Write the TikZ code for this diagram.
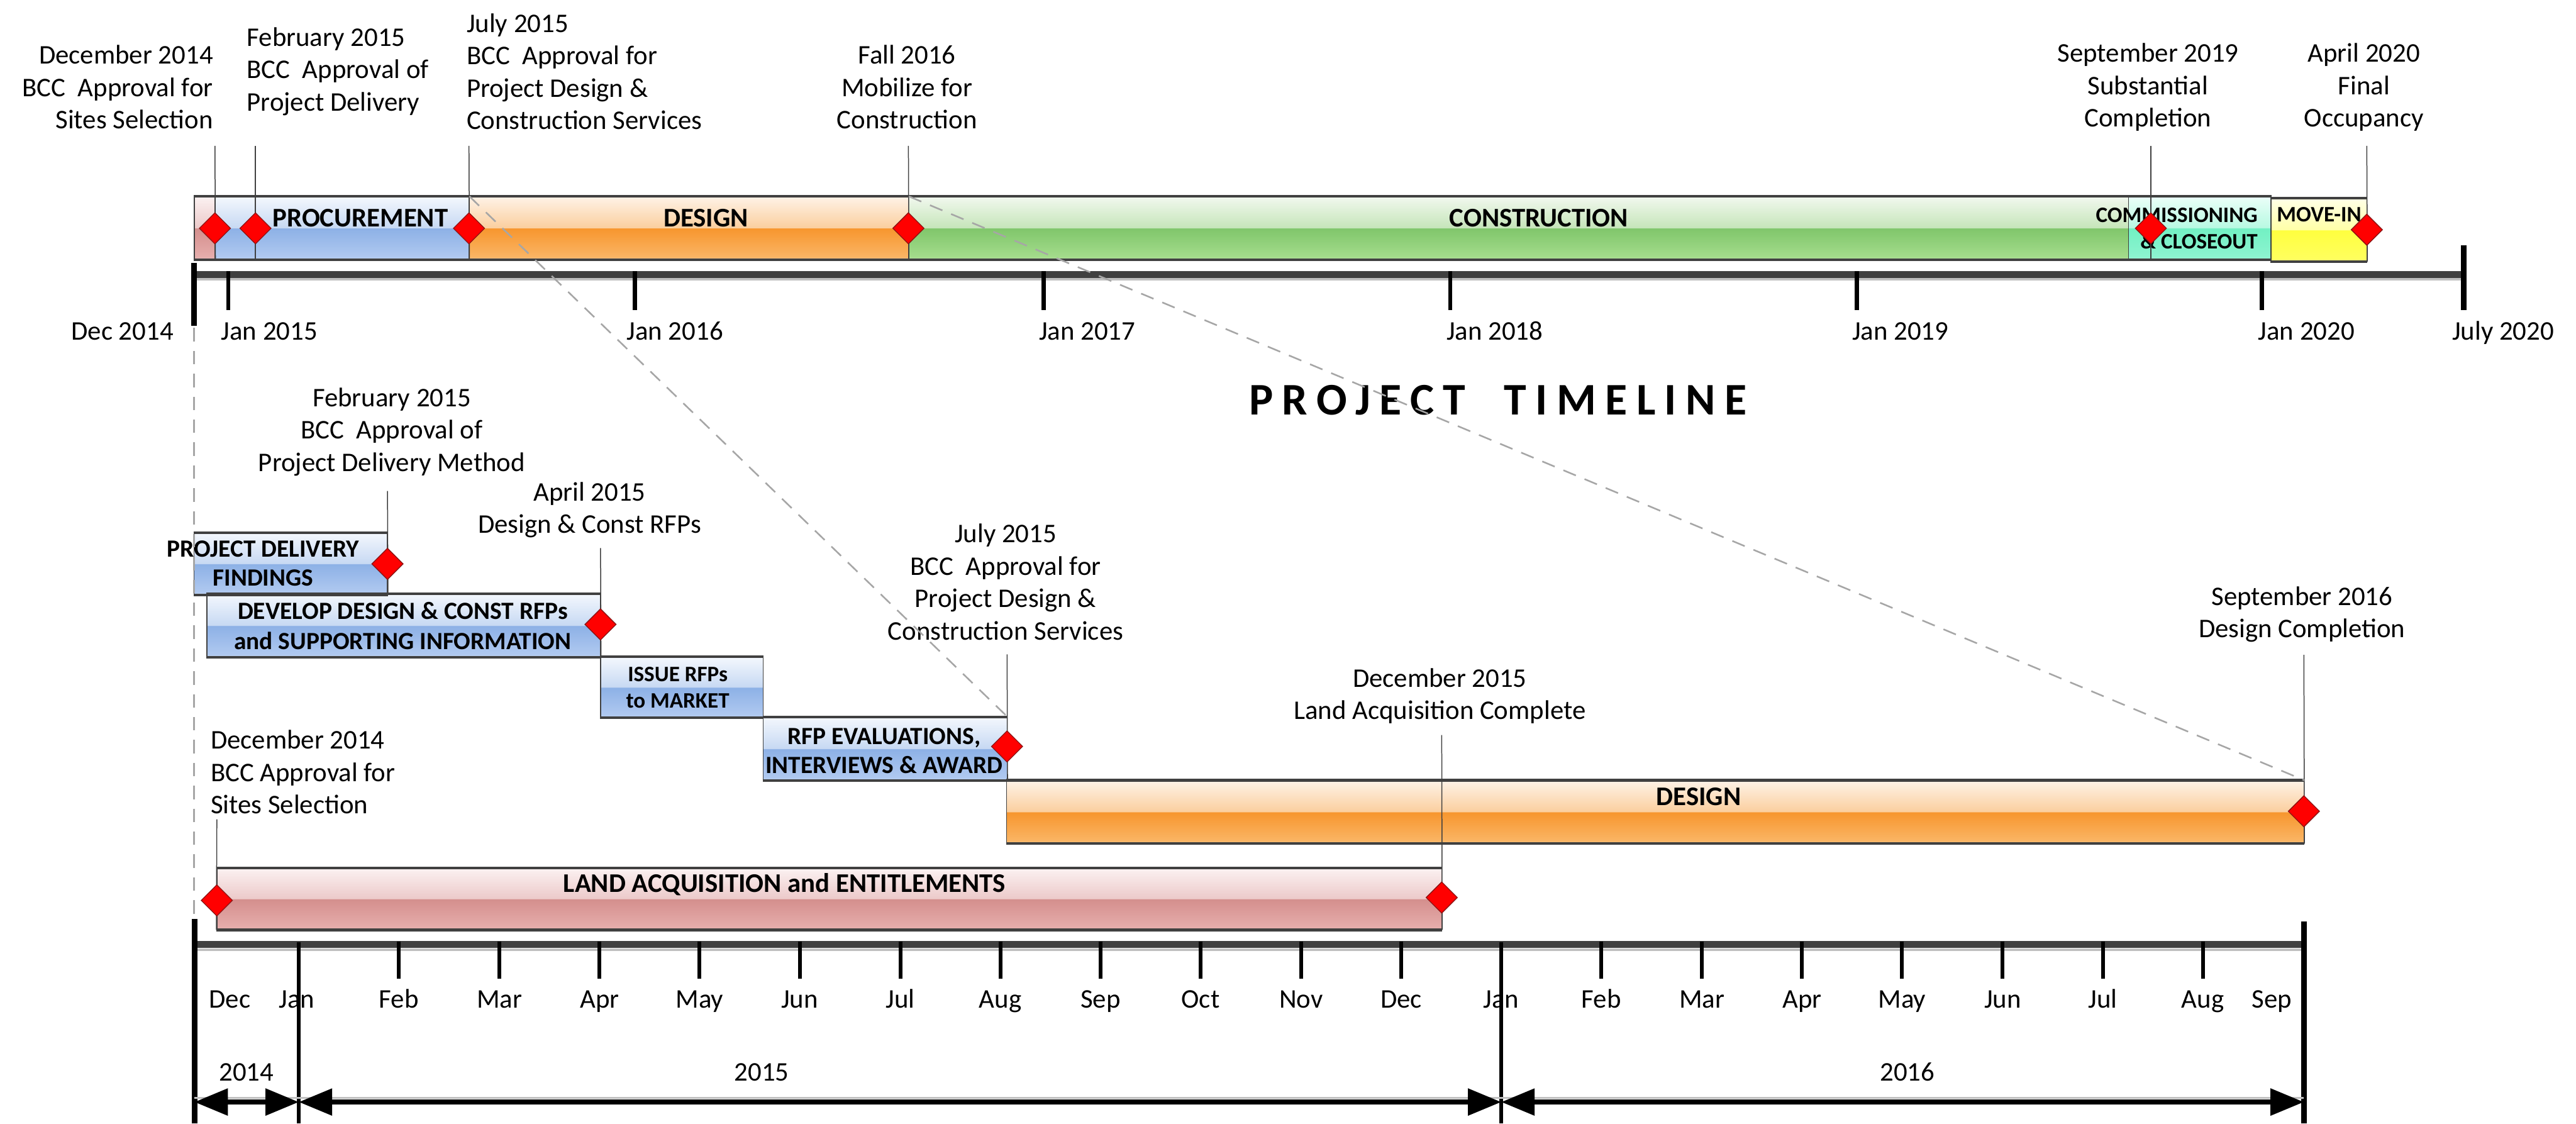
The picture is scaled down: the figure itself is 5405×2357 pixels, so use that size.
\documentclass[tikz,border=0pt]{standalone}
\usepackage{fontspec}
\setmainfont{Carlito}
\newfontfamily\titlefont[LetterSpace=20]{Carlito}
\usepackage{tikz}
\usetikzlibrary{shapes.geometric}
\usetikzlibrary{arrows.meta}

\definecolor{edgegray}{RGB}{64,64,64}
\definecolor{dashgray}{RGB}{166,166,166}
\definecolor{shadowgray}{RGB}{192,192,192}
\definecolor{msdark}{RGB}{140,20,20}
% glass colours, A top ... E bottom strip
\definecolor{blueA}{HTML}{F3F7FD}\definecolor{blueB}{HTML}{C7D9F3}\definecolor{blueC}{HTML}{8DB1E6}\definecolor{blueD}{HTML}{B0C9F0}\definecolor{blueE}{HTML}{DCE8F8}
\definecolor{orngA}{HTML}{FEF2E6}\definecolor{orngB}{HTML}{FBCF9F}\definecolor{orngC}{HTML}{F7962E}\definecolor{orngD}{HTML}{FAB565}\definecolor{orngE}{HTML}{FDE3C8}
\definecolor{grenA}{HTML}{F1F8EE}\definecolor{grenB}{HTML}{C6E5BA}\definecolor{grenC}{HTML}{80C66B}\definecolor{grenD}{HTML}{A4DC8C}\definecolor{grenE}{HTML}{D5F0C9}
\definecolor{pinkA}{HTML}{FBF1F1}\definecolor{pinkB}{HTML}{ECCACA}\definecolor{pinkC}{HTML}{D48F8D}\definecolor{pinkD}{HTML}{E6ADAC}\definecolor{pinkE}{HTML}{F5DCDC}
\definecolor{tealA}{HTML}{EAFFF8}\definecolor{tealB}{HTML}{B8F9E2}\definecolor{tealC}{HTML}{72F0C3}\definecolor{tealD}{HTML}{8DF4D0}\definecolor{tealE}{HTML}{C7FBE8}
\definecolor{yellA}{HTML}{FFFFE6}\definecolor{yellB}{HTML}{FFFFA8}\definecolor{yellC}{HTML}{FFFF3F}\definecolor{yellD}{HTML}{FFFF5E}\definecolor{yellE}{HTML}{FFFFB0}

\pgfdeclareverticalshading{glassblue}{100bp}{color(0bp)=(blueE); color(25bp)=(blueE); color(26.5bp)=(blueD); color(49.7bp)=(blueC); color(50.3bp)=(blueB); color(75bp)=(blueA); color(100bp)=(blueA)}
\pgfdeclareverticalshading{glassorange}{100bp}{color(0bp)=(orngE); color(25bp)=(orngE); color(26.5bp)=(orngD); color(49.7bp)=(orngC); color(50.3bp)=(orngB); color(75bp)=(orngA); color(100bp)=(orngA)}
\pgfdeclareverticalshading{glassgreen}{100bp}{color(0bp)=(grenE); color(25bp)=(grenE); color(26.5bp)=(grenD); color(49.7bp)=(grenC); color(50.3bp)=(grenB); color(75bp)=(grenA); color(100bp)=(grenA)}
\pgfdeclareverticalshading{glasspink}{100bp}{color(0bp)=(pinkE); color(25bp)=(pinkE); color(26.5bp)=(pinkD); color(49.7bp)=(pinkC); color(50.3bp)=(pinkB); color(75bp)=(pinkA); color(100bp)=(pinkA)}
\pgfdeclareverticalshading{glassteal}{100bp}{color(0bp)=(tealE); color(25bp)=(tealE); color(26.5bp)=(tealD); color(49.7bp)=(tealC); color(50.3bp)=(tealB); color(75bp)=(tealA); color(100bp)=(tealA)}
\pgfdeclareverticalshading{glassyellow}{100bp}{color(0bp)=(yellE); color(25bp)=(yellE); color(26.5bp)=(yellD); color(49.7bp)=(yellC); color(50.3bp)=(yellB); color(75bp)=(yellA); color(100bp)=(yellA)}

\newlength\pxu
\setlength\pxu{0.177pt}

\begin{document}
\begin{tikzpicture}[x=0.177pt,y=0.177pt,yscale=-1,xscale=1,
  bar/.style={rectangle, shade, draw=edgegray, line width=0.35pt, inner sep=0pt},
  baredge/.style={draw=edgegray, line width=1pt},
  bartxt/.style={inner sep=0pt, align=center, font=\fontsize{10}{10.6}\selectfont\bfseries},
  subtxt/.style={inner sep=0pt, align=center, font=\fontsize{9.2}{10.8}\selectfont\bfseries},
  smalltxt/.style={inner sep=0pt, align=center, font=\fontsize{8.2}{9.8}\selectfont\bfseries},
  lbl/.style={inner sep=0pt, align=center, font=\fontsize{10}{12}\selectfont},
  msline/.style={draw=edgegray, line width=0.35pt},
  zoomline/.style={draw=dashgray, line width=0.6pt, dash pattern=on 5pt off 3.5pt},
  milestone/.style={diamond, fill=red, draw=msdark, line width=0.3pt, inner sep=0pt, minimum width=66*\pxu, minimum height=66*\pxu},
  band/.style={draw=edgegray, line width=2.5pt},
  bandshadow/.style={draw=shadowgray, line width=0.9pt},
  bigtick/.style={draw=black, line width=2.1pt},
  yeartick/.style={draw=black, line width=1.5pt},
  monthtick/.style={draw=black, line width=1.4pt},
  yeararrow/.style={<->, >={Triangle[length=12.4pt,width=9.7pt]}, draw=black, line width=1.8pt}
]
\useasboundingbox (0,0) rectangle (5405,2357);

%%%%%%%%%%%%%%%% upper timeline %%%%%%%%%%%%%%%%

%Shape: Rectangle (phase bars)
\node (landT) [bar, shading=glasspink, minimum width=43*\pxu, minimum height=131*\pxu] at (429.5,478.5) {};
\node (prcT) [bar, shading=glassblue, minimum width=533*\pxu, minimum height=131*\pxu] at (717.5,478.5) {};
\node (dsgT) [bar, shading=glassorange, minimum width=922*\pxu, minimum height=131*\pxu] at (1445,478.5) {};
\node (conT) [bar, shading=glassgreen, minimum width=2560*\pxu, minimum height=131*\pxu] at (3186,478.5) {};
\node (cmsT) [bar, shading=glassteal, minimum width=299*\pxu, minimum height=131*\pxu] at (4615.5,478.5) {};
\node (movT) [bar, shading=glassyellow, minimum width=201*\pxu, minimum height=131*\pxu] at (4865.5,482.5) {};
\draw[baredge] (landT.north west) -- (landT.north east) (landT.south west) -- (landT.south east);
\draw[baredge] (prcT.north west) -- (prcT.north east) (prcT.south west) -- (prcT.south east);
\draw[baredge] (dsgT.north west) -- (dsgT.north east) (dsgT.south west) -- (dsgT.south east);
\draw[baredge] (conT.north west) -- (conT.north east) (conT.south west) -- (conT.south east);
\draw[baredge] (cmsT.north west) -- (cmsT.north east) (cmsT.south west) -- (cmsT.south east);
\draw[baredge] (movT.north west) -- (movT.north east) (movT.south west) -- (movT.south east);

% Text Node
\node (prcTxt) [bartxt] at (756,458) {PROCUREMENT};
% Text Node
\node (dsgTxt) [bartxt] at (1481,458) {DESIGN};
% Text Node
\node (conTxt) [bartxt] at (3229,458) {CONSTRUCTION};
% Text Node
\node (cmsTxt) [smalltxt, align=right, anchor=east] at (4738,479) {COMMISSIONING\\\& CLOSEOUT};
% Text Node
\node (movTxt) [smalltxt] at (4866,450) {MOVE-IN};

%Straight Lines (axis)
\draw[bandshadow] (407,586) -- (5170,586);
\draw[band] (407,576) -- (5170,576);
\draw[bigtick] (407,552) -- (407,683);
\draw[yeartick] (479,569) -- (479,650);
\draw[yeartick] (1332,569) -- (1332,650);
\draw[yeartick] (2190,569) -- (2190,650);
\draw[yeartick] (3043,569) -- (3043,650);
\draw[yeartick] (3896,569) -- (3896,650);
\draw[yeartick] (4746,569) -- (4746,650);
\draw[bigtick] (5170,514) -- (5170,650);

% Text Node
\node (tDec14) [lbl, anchor=base east] at (365,713) {Dec 2014};
\node (tJan15) [lbl, anchor=base west] at (463,713) {Jan 2015};
\node (tJan16) [lbl, anchor=base west] at (1314,713) {Jan 2016};
\node (tJan17) [lbl, anchor=base west] at (2179,713) {Jan 2017};
\node (tJan18) [lbl, anchor=base west] at (3034,713) {Jan 2018};
\node (tJan19) [lbl, anchor=base west] at (3885,713) {Jan 2019};
\node (tJan20) [lbl, anchor=base west] at (4737,713) {Jan 2020};
\node (tJul20) [lbl, anchor=base west] at (5144,713) {July 2020};

% Text Node (milestones)
\node (mDec14T) [lbl, align=right, anchor=east] at (448,183) {December 2014\\BCC~ Approval for\\Sites Selection};
\node (mFeb15T) [lbl, align=left, anchor=west] at (517,150) {February 2015\\BCC~ Approval of\\Project Delivery};
\node (mJul15T) [lbl, align=left, anchor=west] at (978,150) {July 2015\\BCC~ Approval for\\Project Design \&\\Construction Services};
\node (mFall16T) [lbl] at (1903,183) {Fall 2016\\Mobilize for\\Construction};
\node (mSep19T) [lbl] at (4507,183) {September 2019\\Substantial\\Completion};
\node (mApr20T) [lbl] at (4960,183) {April 2020\\Final\\Occupancy};

\coordinate (cA) at (451,306);
\coordinate (cB) at (536,306);
\coordinate (cC) at (984,306);
\coordinate (cD) at (1906,306);
\coordinate (cE) at (4513,306);
\coordinate (cF) at (4966,306);
%Straight Lines
\draw[msline] (cA) -- (landT.south east);
\draw[msline] (cB) -- (cB |- prcT.south);
\draw[msline] (cC) -- (prcT.south east);
\draw[msline] (cD) -- (dsgT.south east);
\draw[msline] (cE) -- (cE |- cmsT.south);
\draw[msline] (cF) -- (movT.south east);

% Title
\node (title) [inner sep=0pt, font=\titlefont\fontsize{16.8}{20}\selectfont\bfseries] at (3143,840) {PROJECT\ \ TIMELINE};

%%%%%%%%%%%%%%%% lower timeline %%%%%%%%%%%%%%%%

%Shape: Rectangle (task bars)
\node (pdf) [bar, shading=glassblue, minimum width=406*\pxu, minimum height=128*\pxu] at (610,1183) {};
\node (dev) [bar, shading=glassblue, minimum width=826*\pxu, minimum height=131*\pxu] at (847,1312.5) {};
\node (iss) [bar, shading=glassblue, minimum width=341*\pxu, minimum height=126*\pxu] at (1430.5,1442) {};
\node (rfp) [bar, shading=glassblue, minimum width=512*\pxu, minimum height=132*\pxu] at (1857,1571) {};
\node (dsgL) [bar, shading=glassorange, minimum width=2722*\pxu, minimum height=131*\pxu] at (3473,1703.5) {};
\node (lnd) [bar, shading=glasspink, minimum width=2570*\pxu, minimum height=128*\pxu] at (1740,1886) {};
\draw[baredge] (pdf.north west) -- (pdf.north east) (pdf.south west) -- (pdf.south east);
\draw[baredge] (dev.north west) -- (dev.north east) (dev.south west) -- (dev.south east);
\draw[baredge] (iss.north west) -- (iss.north east) (iss.south west) -- (iss.south east);
\draw[baredge] (rfp.north west) -- (rfp.north east) (rfp.south west) -- (rfp.south east);
\draw[baredge] (dsgL.north west) -- (dsgL.north east) (dsgL.south west) -- (dsgL.south east);
\draw[baredge] (lnd.north west) -- (lnd.north east) (lnd.south west) -- (lnd.south east);

% Text Node
\node (pdfTxt) [subtxt] at (552,1182) {PROJECT DELIVERY\\FINDINGS};
% Text Node
\node (devTxt) [subtxt, font=\fontsize{9.2}{11.1}\selectfont\bfseries] at (845,1313) {DEVELOP DESIGN \& CONST RFPs\\and SUPPORTING INFORMATION};
% Text Node
\node (issTxt) [smalltxt] at (1422,1443) {ISSUE RFPs\\to MARKET};
% Text Node
\node (rfpTxt) [subtxt] at (1855,1575) {RFP EVALUATIONS,\\INTERVIEWS \& AWARD};
% Text Node
\node (dsgLTxt) [bartxt] at (3564,1671) {DESIGN};
% Text Node
\node (lndTxt) [bartxt] at (1646,1855) {LAND ACQUISITION and ENTITLEMENTS};

% Text Node (milestones)
\node (mFeb15L) [lbl] at (822,906) {February 2015\\BCC~ Approval of\\Project Delivery Method};
\node (mApr15L) [lbl] at (1237,1070) {April 2015\\Design \& Const RFPs};
\node (mJul15L) [lbl] at (2110,1221) {July 2015\\BCC~ Approval for\\Project Design \&\\Construction Services};
\node (mSep16L) [lbl] at (4830,1289) {September 2016\\Design Completion};
\node (mDec15L) [lbl] at (3021,1460) {December 2015\\Land Acquisition Complete};
\node (mDec14L) [lbl, align=left, anchor=west] at (441,1620) {December 2014\\BCC Approval for\\Sites Selection};

\coordinate (cG) at (813,1030);
\coordinate (cH) at (1260,1150);
\coordinate (cI) at (2113,1373);
\coordinate (cJ) at (4834,1374);
\coordinate (cK) at (3025,1542);
\coordinate (cL) at (455,1719);
%Straight Lines
\draw[msline] (cG) -- (pdf.south east);
\draw[msline] (cH) -- (dev.south east);
\draw[msline] (cI) -- (rfp.south east);
\draw[msline] (cJ) -- (dsgL.south east);
\draw[msline] (cK) -- (lnd.south east);
\draw[msline] (cL) -- (lnd.south west);

%Straight Lines (axis)
\draw[bandshadow] (407,1993) -- (4834,1993);
\draw[band] (407,1981) -- (4834,1981);
\draw[bigtick] (408,1928) -- (408,2357);
\draw[yeartick] (627,1977) -- (627,2357);
\draw[yeartick] (3150,1977) -- (3150,2357);
\draw[bigtick] (4834,1933) -- (4834,2357);
\draw[monthtick] (837,1975) -- (837,2053);
\draw[monthtick] (1048,1975) -- (1048,2053);
\draw[monthtick] (1258,1975) -- (1258,2053);
\draw[monthtick] (1468,1975) -- (1468,2053);
\draw[monthtick] (1678,1975) -- (1678,2053);
\draw[monthtick] (1889,1975) -- (1889,2053);
\draw[monthtick] (2099,1975) -- (2099,2053);
\draw[monthtick] (2309,1975) -- (2309,2053);
\draw[monthtick] (2519,1975) -- (2519,2053);
\draw[monthtick] (2730,1975) -- (2730,2053);
\draw[monthtick] (2940,1975) -- (2940,2053);
\draw[monthtick] (3360,1975) -- (3360,2053);
\draw[monthtick] (3571,1975) -- (3571,2053);
\draw[monthtick] (3781,1975) -- (3781,2053);
\draw[monthtick] (3991,1975) -- (3991,2053);
\draw[monthtick] (4202,1975) -- (4202,2053);
\draw[monthtick] (4412,1975) -- (4412,2053);
\draw[monthtick] (4622,1975) -- (4622,2053);

% Text Node (months)
\node (mo0) [lbl, anchor=base] at (482,2115) {Dec};
\node (mo1) [lbl, anchor=base] at (623,2115) {Jan};
\node (mo2) [lbl, anchor=base] at (837,2115) {Feb};
\node (mo3) [lbl, anchor=base] at (1048,2115) {Mar};
\node (mo4) [lbl, anchor=base] at (1258,2115) {Apr};
\node (mo5) [lbl, anchor=base] at (1468,2115) {May};
\node (mo6) [lbl, anchor=base] at (1678,2115) {Jun};
\node (mo7) [lbl, anchor=base] at (1889,2115) {Jul};
\node (mo8) [lbl, anchor=base] at (2099,2115) {Aug};
\node (mo9) [lbl, anchor=base] at (2309,2115) {Sep};
\node (mo10) [lbl, anchor=base] at (2519,2115) {Oct};
\node (mo11) [lbl, anchor=base] at (2730,2115) {Nov};
\node (mo12) [lbl, anchor=base] at (2940,2115) {Dec};
\node (mo13) [lbl, anchor=base] at (3150,2115) {Jan};
\node (mo14) [lbl, anchor=base] at (3360,2115) {Feb};
\node (mo15) [lbl, anchor=base] at (3571,2115) {Mar};
\node (mo16) [lbl, anchor=base] at (3781,2115) {Apr};
\node (mo17) [lbl, anchor=base] at (3991,2115) {May};
\node (mo18) [lbl, anchor=base] at (4202,2115) {Jun};
\node (mo19) [lbl, anchor=base] at (4412,2115) {Jul};
\node (mo20) [lbl, anchor=base] at (4622,2115) {Aug};
\node (mo21) [lbl, anchor=base] at (4767,2115) {Sep};

% Text Node (years)
\node (yr14) [lbl, anchor=base] at (517,2268) {2014};
\node (yr15) [lbl, anchor=base] at (1598,2268) {2015};
\node (yr16) [lbl, anchor=base] at (4002,2268) {2016};

\coordinate (ya0) at (408,2312);
\coordinate (ya1) at (627,2312);
\coordinate (ya2) at (3150,2312);
\coordinate (ya3) at (4834,2312);
%Straight Lines (year spans)
\draw[draw=shadowgray, line width=0.8pt] (408,2303) -- (4834,2303);
\draw[yeararrow] (ya0) -- (ya1);
\draw[yeararrow] (ya1) -- (ya2);
\draw[yeararrow] (ya2) -- (ya3);

%%%%%%%%%%%%%%%% zoom lines and milestones %%%%%%%%%%%%%%%%
\coordinate (zA) at (407,688);
\coordinate (zB) at (407,1928);
\draw[zoomline] (zA) -- (zB);
\draw[zoomline] (prcT.north east) -- (rfp.north east);
\draw[zoomline] (dsgT.north east) -- (dsgL.north east);

% Diamonds
\node (dDec14T) [milestone] at (451,479) {};
\node (dFeb15T) [milestone] at (536,479) {};
\node (dJul15T) [milestone] at (984,479) {};
\node (dFall16T) [milestone] at (1906,479) {};
\node (dSep19T) [milestone] at (4513,479) {};
\node (dApr20T) [milestone] at (4966,482) {};
\node (dFeb15L) [milestone] at (813,1183) {};
\node (dApr15L) [milestone] at (1260,1310) {};
\node (dJul15L) [milestone] at (2113,1566) {};
\node (dSep16L) [milestone] at (4834,1702) {};
\node (dDec14L) [milestone] at (455,1889) {};
\node (dDec15L) [milestone] at (3025,1883) {};

\end{tikzpicture}
\end{document}
